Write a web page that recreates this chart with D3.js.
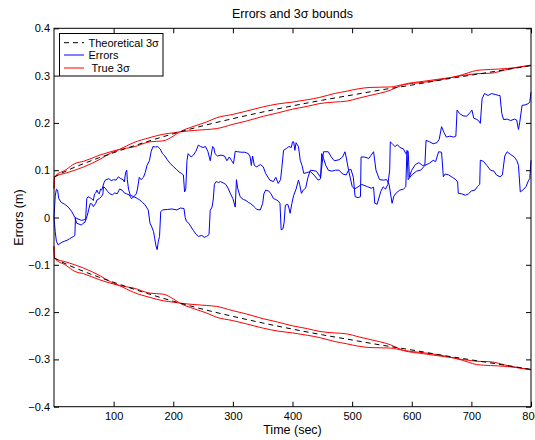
<!DOCTYPE html>
<html>
<head>
<meta charset="utf-8">
<script src="https://cdn.jsdelivr.net/npm/d3@7"></script>
<style>
  html, body { margin: 0; padding: 0; background: #fff; }
  svg { display: block; }
  text { font-family: "Liberation Sans", Arial, Helvetica, sans-serif; fill: #000; }
</style>
</head>
<body>
<svg id="chart" width="535" height="440"></svg>
<script>
// ---------------- data ----------------
const titleText = "Errors and 3\u03c3 bounds";
const xLabelText = "Time (sec)";
const yLabelText = "Errors (m)";
const legendLabels = ["Theoretical 3\u03c3", "Errors", "\u00a0True 3\u03c3"];

const xTicks = [100, 200, 300, 400, 500, 600, 700, 800];
const xTickLabels = ["100", "200", "300", "400", "500", "600", "700", "800"];
const yTicks = [-0.4, -0.3, -0.2, -0.1, 0, 0.1, 0.2, 0.3, 0.4];
const yTickLabels = ["\u22120.4", "\u22120.3", "\u22120.2", "\u22120.1", "0", "0.1", "0.2", "0.3", "0.4"];

// theoretical 3-sigma bound (dashed, plotted as +/-)
const theoTime  = [0, 10, 25, 50, 75, 100, 150, 200, 250, 300, 350, 400, 450, 500, 550, 600, 650, 700, 750, 800];
const theoValue = [0.085, 0.092, 0.101, 0.114, 0.126, 0.137, 0.158, 0.177, 0.194, 0.209, 0.223, 0.236, 0.248, 0.259, 0.270, 0.280, 0.291, 0.301, 0.311, 0.321];

// true 3-sigma bounds of two runs (red, plotted as +/-)
const trueTime   = [0, 1, 20, 35, 50, 77, 95, 110, 133, 161, 183, 200, 211, 235, 256, 273, 300, 323, 351, 375, 400, 425, 446, 470, 491, 510, 530, 564, 586, 620, 648, 676, 695, 709, 732, 760, 800];
const trueRunA   = [0.062, 0.086, 0.101, 0.114, 0.119, 0.132, 0.139, 0.144, 0.149, 0.160, 0.162, 0.172, 0.181, 0.193, 0.202, 0.211, 0.218, 0.225, 0.234, 0.240, 0.244, 0.249, 0.254, 0.262, 0.267, 0.272, 0.275, 0.276, 0.281, 0.286, 0.291, 0.2985, 0.302, 0.304, 0.305, 0.313, 0.322];
const trueRunB   = [0.060, 0.086, 0.094, 0.100, 0.107, 0.123, 0.136, 0.144, 0.158, 0.169, 0.176, 0.179, 0.181, 0.184, 0.186, 0.188, 0.197, 0.204, 0.214, 0.221, 0.229, 0.235, 0.241, 0.244, 0.246, 0.252, 0.258, 0.269, 0.281, 0.288, 0.293, 0.2985, 0.306, 0.311, 0.313, 0.315, 0.322];

// errors of run A (blue)
const errATime = [0,2,4,6,8,12,18,24,30,35,38,42,46,49,52,56,58,61,64,66,70,72,76,80,82,83,86,90,94,98,102,106,110,114,118,122,126,130,134,138,140,143,146,150,153,156,160,163,166,170,174,178,182,186,190,195,200,205,210,214,217,219,221,223,225,230,234,238,242,246,250,254,258,262,266,268,270,274,280,286,290,294,298,301,304,308,314,320,326,329,331,333,336,340,346,351,355,362,368,372,376,380,382,385,390,394,398,400,402,404,406,410,413,416,419,424,430,436,443,447,449,452,456,460,466,472,478,484,490,494,500,504,510,516,520,526,532,536,538,542,548,552,556,560,563,564,568,572,576,580,586,590,594,596,600,606,612,618,622,624,630,636,642,646,650,654,658,664,670,674,676,680,686,692,698,701,704,708,712,715,718,722,728,734,740,746,748,751,754,760,766,772,776,779,781,785,790,796,798,800];
const errAValue = [0,0.045,0.060,0.058,0.040,0.032,0.028,0.022,0.012,0.000,-0.012,-0.014,-0.016,-0.012,-0.010,0.005,0.016,0.030,0.028,0.023,0.030,0.037,0.040,0.045,0.050,0.065,0.062,0.055,0.050,0.048,0.052,0.050,0.060,0.058,0.052,0.050,0.048,0.040,0.044,0.050,0.060,0.085,0.080,0.085,0.095,0.110,0.120,0.140,0.150,0.149,0.150,0.145,0.135,0.130,0.122,0.114,0.108,0.102,0.096,0.093,0.090,0.054,0.060,0.120,0.135,0.128,0.132,0.140,0.153,0.150,0.148,0.150,0.140,0.120,0.150,0.148,0.135,0.130,0.132,0.130,0.120,0.128,0.120,0.114,0.140,0.139,0.138,0.138,0.135,0.128,0.110,0.130,0.110,0.107,0.112,0.107,0.093,0.079,0.076,0.085,0.072,0.080,0.104,0.142,0.146,0.150,0.148,0.160,0.160,0.142,0.158,0.150,0.121,0.110,0.093,0.095,0.097,0.090,0.079,0.082,0.135,0.125,0.110,0.100,0.098,0.100,0.100,0.092,0.090,0.100,0.066,0.060,0.065,0.070,0.068,0.065,0.062,0.064,0.030,0.028,0.055,0.065,0.060,0.070,0.100,0.160,0.155,0.150,0.154,0.148,0.145,0.135,0.140,0.086,0.100,0.112,0.116,0.110,0.111,0.163,0.160,0.156,0.158,0.165,0.192,0.180,0.170,0.172,0.170,0.172,0.227,0.220,0.215,0.214,0.222,0.227,0.210,0.208,0.205,0.199,0.251,0.262,0.258,0.262,0.260,0.258,0.258,0.220,0.207,0.208,0.205,0.208,0.206,0.186,0.200,0.237,0.238,0.241,0.245,0.265];

// errors of run B (blue)
const errBTime = [0,2,4,7,10,14,18,22,26,30,33,35,36,38,42,46,50,53,55,57,60,63,66,68,70,72,74,76,78,80,82,84,86,92,96,100,104,108,112,116,118,120,122,123,125,128,134,140,144,148,152,156,158,161,164,167,169,171,173,175,177,179,182,190,198,206,212,218,220,222,226,230,234,238,242,248,252,256,260,262,265,267,269,272,276,279,284,288,292,296,300,304,306,308,312,315,318,322,326,329,334,338,340,346,350,352,355,360,364,368,372,376,379,381,384,386,388,392,394,396,399,402,406,410,412,415,418,422,426,430,440,447,452,460,465,470,478,484,488,490,494,498,502,505,510,514,515,520,528,532,536,540,546,552,558,562,567,570,574,580,586,590,592,594,600,608,615,622,630,636,640,645,650,653,656,662,668,674,677,678,684,690,695,700,706,710,714,715,720,726,732,738,742,748,752,756,760,766,772,776,779,782,788,792,796,798,800];
const errBValue = [0,-0.030,-0.050,-0.058,-0.055,-0.052,-0.050,-0.048,-0.045,-0.042,-0.040,-0.038,0.000,-0.002,-0.004,-0.006,-0.005,-0.004,0.040,0.044,0.042,0.040,0.036,0.050,0.052,0.058,0.052,0.050,0.060,0.058,0.066,0.074,0.079,0.082,0.078,0.080,0.079,0.086,0.082,0.080,0.075,0.095,0.100,0.080,0.060,0.047,0.044,0.040,0.037,0.032,0.028,0.020,0.016,-0.012,-0.020,-0.030,-0.045,-0.060,-0.068,-0.050,-0.040,0.012,0.016,0.017,0.018,0.016,0.020,0.019,0.000,-0.008,-0.012,-0.020,-0.028,-0.035,-0.040,-0.038,-0.042,-0.040,-0.036,0.015,0.022,0.037,0.070,0.076,0.074,0.076,0.073,0.070,0.062,0.050,0.040,0.022,0.080,0.062,0.045,0.040,0.038,0.036,0.032,0.030,0.025,0.020,0.017,0.016,0.030,0.050,0.058,0.056,0.050,0.040,0.038,0.035,0.030,-0.026,-0.024,-0.010,0.026,0.028,0.020,0.009,0.030,0.047,0.060,0.079,0.070,0.051,0.058,0.062,0.085,0.100,0.098,0.085,0.139,0.139,0.128,0.120,0.122,0.128,0.139,0.128,0.100,0.102,0.085,0.044,0.042,0.044,0.128,0.128,0.125,0.132,0.139,0.100,0.080,0.079,0.080,0.070,0.030,0.045,0.052,0.058,0.060,0.065,0.142,0.080,0.090,0.098,0.100,0.110,0.115,0.121,0.118,0.139,0.138,0.086,0.092,0.090,0.085,0.080,0.075,0.051,0.050,0.047,0.050,0.056,0.058,0.065,0.070,0.121,0.119,0.110,0.100,0.098,0.090,0.086,0.090,0.130,0.139,0.133,0.128,0.121,0.110,0.054,0.060,0.066,0.079,0.082,0.121];

// ---------------- drawing ----------------
const svg = d3.select("#chart");
const plot = { left: 54, right: 531, top: 28.3, bottom: 406.7 };

const x = d3.scaleLinear().domain([0, 800]).range([plot.left, plot.right]);
const y = d3.scaleLinear().domain([-0.4, 0.4]).range([plot.bottom, plot.top]);

const zip = (ts, vs, sign) => ts.map((t, i) => [t, sign * vs[i]]);
const smooth = d3.line().x(d => x(d[0])).y(d => y(d[1])).curve(d3.curveMonotoneX);
const straight = d3.line().x(d => x(d[0])).y(d => y(d[1]));

const g = svg.append("g");

// red true 3-sigma
[trueRunA, trueRunB].forEach(run => {
  [1, -1].forEach(s => {
    g.append("path").attr("d", smooth(zip(trueTime, run, s)))
      .attr("fill", "none").attr("stroke", "#ff0000").attr("stroke-width", 1);
  });
});

// blue errors
[[errATime, errAValue], [errBTime, errBValue]].forEach(([ts, vs]) => {
  g.append("path").attr("d", straight(zip(ts, vs, 1)))
    .attr("fill", "none").attr("stroke", "#0000ff").attr("stroke-width", 1);
});

// dashed theoretical
[1, -1].forEach(s => {
  g.append("path").attr("d", smooth(zip(theoTime, theoValue, s)))
    .attr("fill", "none").attr("stroke", "#000").attr("stroke-width", 1)
    .attr("stroke-dasharray", "5,4");
});

// axes (box style with inward ticks)
const tickLen = 5;
const xAxisB = d3.axisBottom(x).tickValues(xTicks).tickFormat((d, i) => xTickLabels[i]).tickSizeInner(-tickLen).tickSizeOuter(0).tickPadding(5.5);
const xAxisT = d3.axisTop(x).tickValues(xTicks).tickFormat("").tickSizeInner(-tickLen).tickSizeOuter(0);
const yAxisL = d3.axisLeft(y).tickValues(yTicks).tickFormat((d, i) => yTickLabels[i]).tickSizeInner(-tickLen).tickSizeOuter(0).tickPadding(4);
const yAxisR = d3.axisRight(y).tickValues(yTicks).tickFormat("").tickSizeInner(-tickLen).tickSizeOuter(0);

function styleAxis(sel) {
  sel.select(".domain").remove();
  sel.selectAll(".tick line").attr("stroke", "#000").attr("stroke-width", 1);
  sel.selectAll(".tick text").style("font-size", "11px").style("font-family", "'Liberation Sans', Arial, sans-serif").attr("fill", "#000");
}
svg.append("g").attr("transform", `translate(0,${plot.bottom})`).call(xAxisB).call(styleAxis);
svg.append("g").attr("transform", `translate(0,${plot.top})`).call(xAxisT).call(styleAxis);
svg.append("g").attr("transform", `translate(${plot.left},0)`).call(yAxisL).call(styleAxis);
svg.append("g").attr("transform", `translate(${plot.right},0)`).call(yAxisR).call(styleAxis);

svg.append("rect")
  .attr("x", plot.left).attr("y", plot.top)
  .attr("width", plot.right - plot.left).attr("height", plot.bottom - plot.top)
  .attr("fill", "none").attr("stroke", "#000").attr("stroke-width", 1);

// title and labels
const midX = (plot.left + plot.right) / 2;
svg.append("text").attr("x", midX).attr("y", 17.5).attr("text-anchor", "middle")
  .style("font-size", "12.5px").text(titleText);
svg.append("text").attr("x", midX).attr("y", 433.5).attr("text-anchor", "middle")
  .style("font-size", "12.5px").text(xLabelText);
svg.append("text").attr("transform", `translate(22.5,${y(0)}) rotate(-90)`).attr("text-anchor", "middle")
  .style("font-size", "12.5px").text(yLabelText);

// legend
const leg = svg.append("g");
leg.append("rect").attr("x", 59.5).attr("y", 33.5).attr("width", 103.5).attr("height", 42.5)
  .attr("fill", "#fff").attr("stroke", "#000").attr("stroke-width", 1);
const legRows = [
  { yy: 42.7, color: "#000", dash: "5,4" },
  { yy: 55.0, color: "#0000ff", dash: null },
  { yy: 68.0, color: "#ff0000", dash: null }
];
legRows.forEach((r, i) => {
  leg.append("line").attr("x1", 64).attr("x2", 84).attr("y1", r.yy).attr("y2", r.yy)
    .attr("stroke", r.color).attr("stroke-width", 1)
    .attr("stroke-dasharray", r.dash);
  leg.append("text").attr("x", 88.5).attr("y", r.yy).attr("dy", "0.35em")
    .style("font-size", "11px").text(legendLabels[i]);
});
</script>
</body>
</html>
